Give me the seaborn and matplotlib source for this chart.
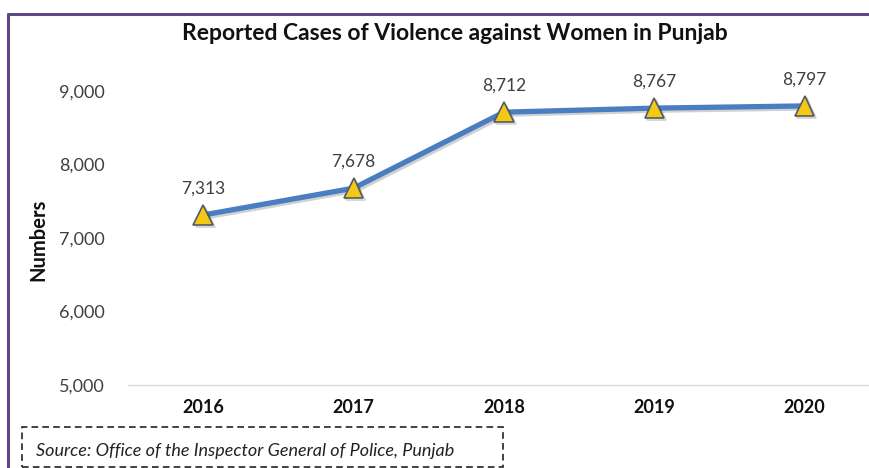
import matplotlib
matplotlib.use("Agg")
import matplotlib.pyplot as plt
import seaborn as sns
import pandas as pd
from matplotlib.lines import Line2D
from matplotlib.patches import Rectangle
import matplotlib.patheffects as pe
from matplotlib.ticker import FuncFormatter

years = ["2016", "2017", "2018", "2019", "2020"]
cases = [7313, 7678, 8712, 8767, 8797]
title = "Reported Cases of Violence against Women in Punjab"
ylabel = "Numbers"
source = "Source: Office of the Inspector General of Police, Punjab"

sns.set_theme(style="white")
plt.rcParams['font.family'] = ['Lato', 'DejaVu Sans']

W, H = 870, 468
fig = plt.figure(figsize=(W / 100, H / 100), dpi=100)
fig.patch.set_facecolor("white")

ax_left, ax_right, ax_top, ax_bottom = 128, 870, 60, 385
ax = fig.add_axes([ax_left / W, 1 - ax_bottom / H, (ax_right - ax_left) / W, (ax_bottom - ax_top) / H])
ax.set_facecolor("white")

df = pd.DataFrame({"year": years, "cases": cases})
sns.lineplot(data=df, x="year", y="cases", ax=ax, color="#4A7EC1", linewidth=3.8,
             marker="^", markersize=14, markerfacecolor="#F5C816",
             markeredgecolor="#4F5B66", markeredgewidth=1.2, sort=False,
             path_effects=[pe.SimpleLineShadow(offset=(1.5, -1.5), alpha=0.2), pe.Normal()])

spacing = 150.4
ax.set_xlim(-0.5, (ax_right - 203) / spacing)
ppu = (385 - 91) / 4000
ax.set_ylim(5000, 9000 + (91 - ax_top) / ppu)
ax.set_yticks([5000, 6000, 7000, 8000, 9000])
ax.yaxis.set_major_formatter(FuncFormatter(lambda v, p: f"{int(v):,}"))
ax.tick_params(axis="y", labelsize=13, labelcolor="#404040", length=0, pad=17)
ax.tick_params(axis="x", labelsize=13, labelcolor="#111111", length=0, pad=10)
for lbl in ax.get_xticklabels():
    lbl.set_fontweight("bold")
for s in ["top", "right", "left"]:
    ax.spines[s].set_visible(False)
ax.spines["bottom"].set_color("#D9D9D9")
ax.spines["bottom"].set_linewidth(1.0)
ax.set_xlabel("")
ax.set_ylabel("")

for i, v in enumerate(cases):
    ax.annotate(f"{v:,}", (i, v), xytext=(0, 13), textcoords="offset points",
                ha="center", va="bottom", fontsize=12.5, color="#404040")

fig.text(455 / W, 1 - 33 / H, title, ha="center", va="center", fontsize=16.5,
         fontweight="bold", color="#111111")
fig.text(38 / W, 1 - 240 / H, ylabel, ha="center", va="center", rotation=90,
         fontsize=14.5, fontweight="bold", color="#111111")

# purple frame
fig.add_artist(Line2D([8 / W, 1.0], [1 - 14 / H, 1 - 14 / H], color="#5E4787", linewidth=2.2))
fig.add_artist(Line2D([8 / W, 8 / W], [0, 1 - 14 / H], color="#5E4787", linewidth=2.2))

# source box
fig.add_artist(Rectangle((22 / W, 1 / H), (503 - 22) / W, (468 - 428) / H, transform=fig.transFigure,
                         fill=False, edgecolor="#222222", linestyle=(0, (4, 2.5)), linewidth=1.2))
fig.text(36 / W, 1 - 451 / H, source, ha="left", va="center", fontsize=13,
         style="italic", color="#222222")

fig.savefig("out.png", dpi=100, facecolor="white")
